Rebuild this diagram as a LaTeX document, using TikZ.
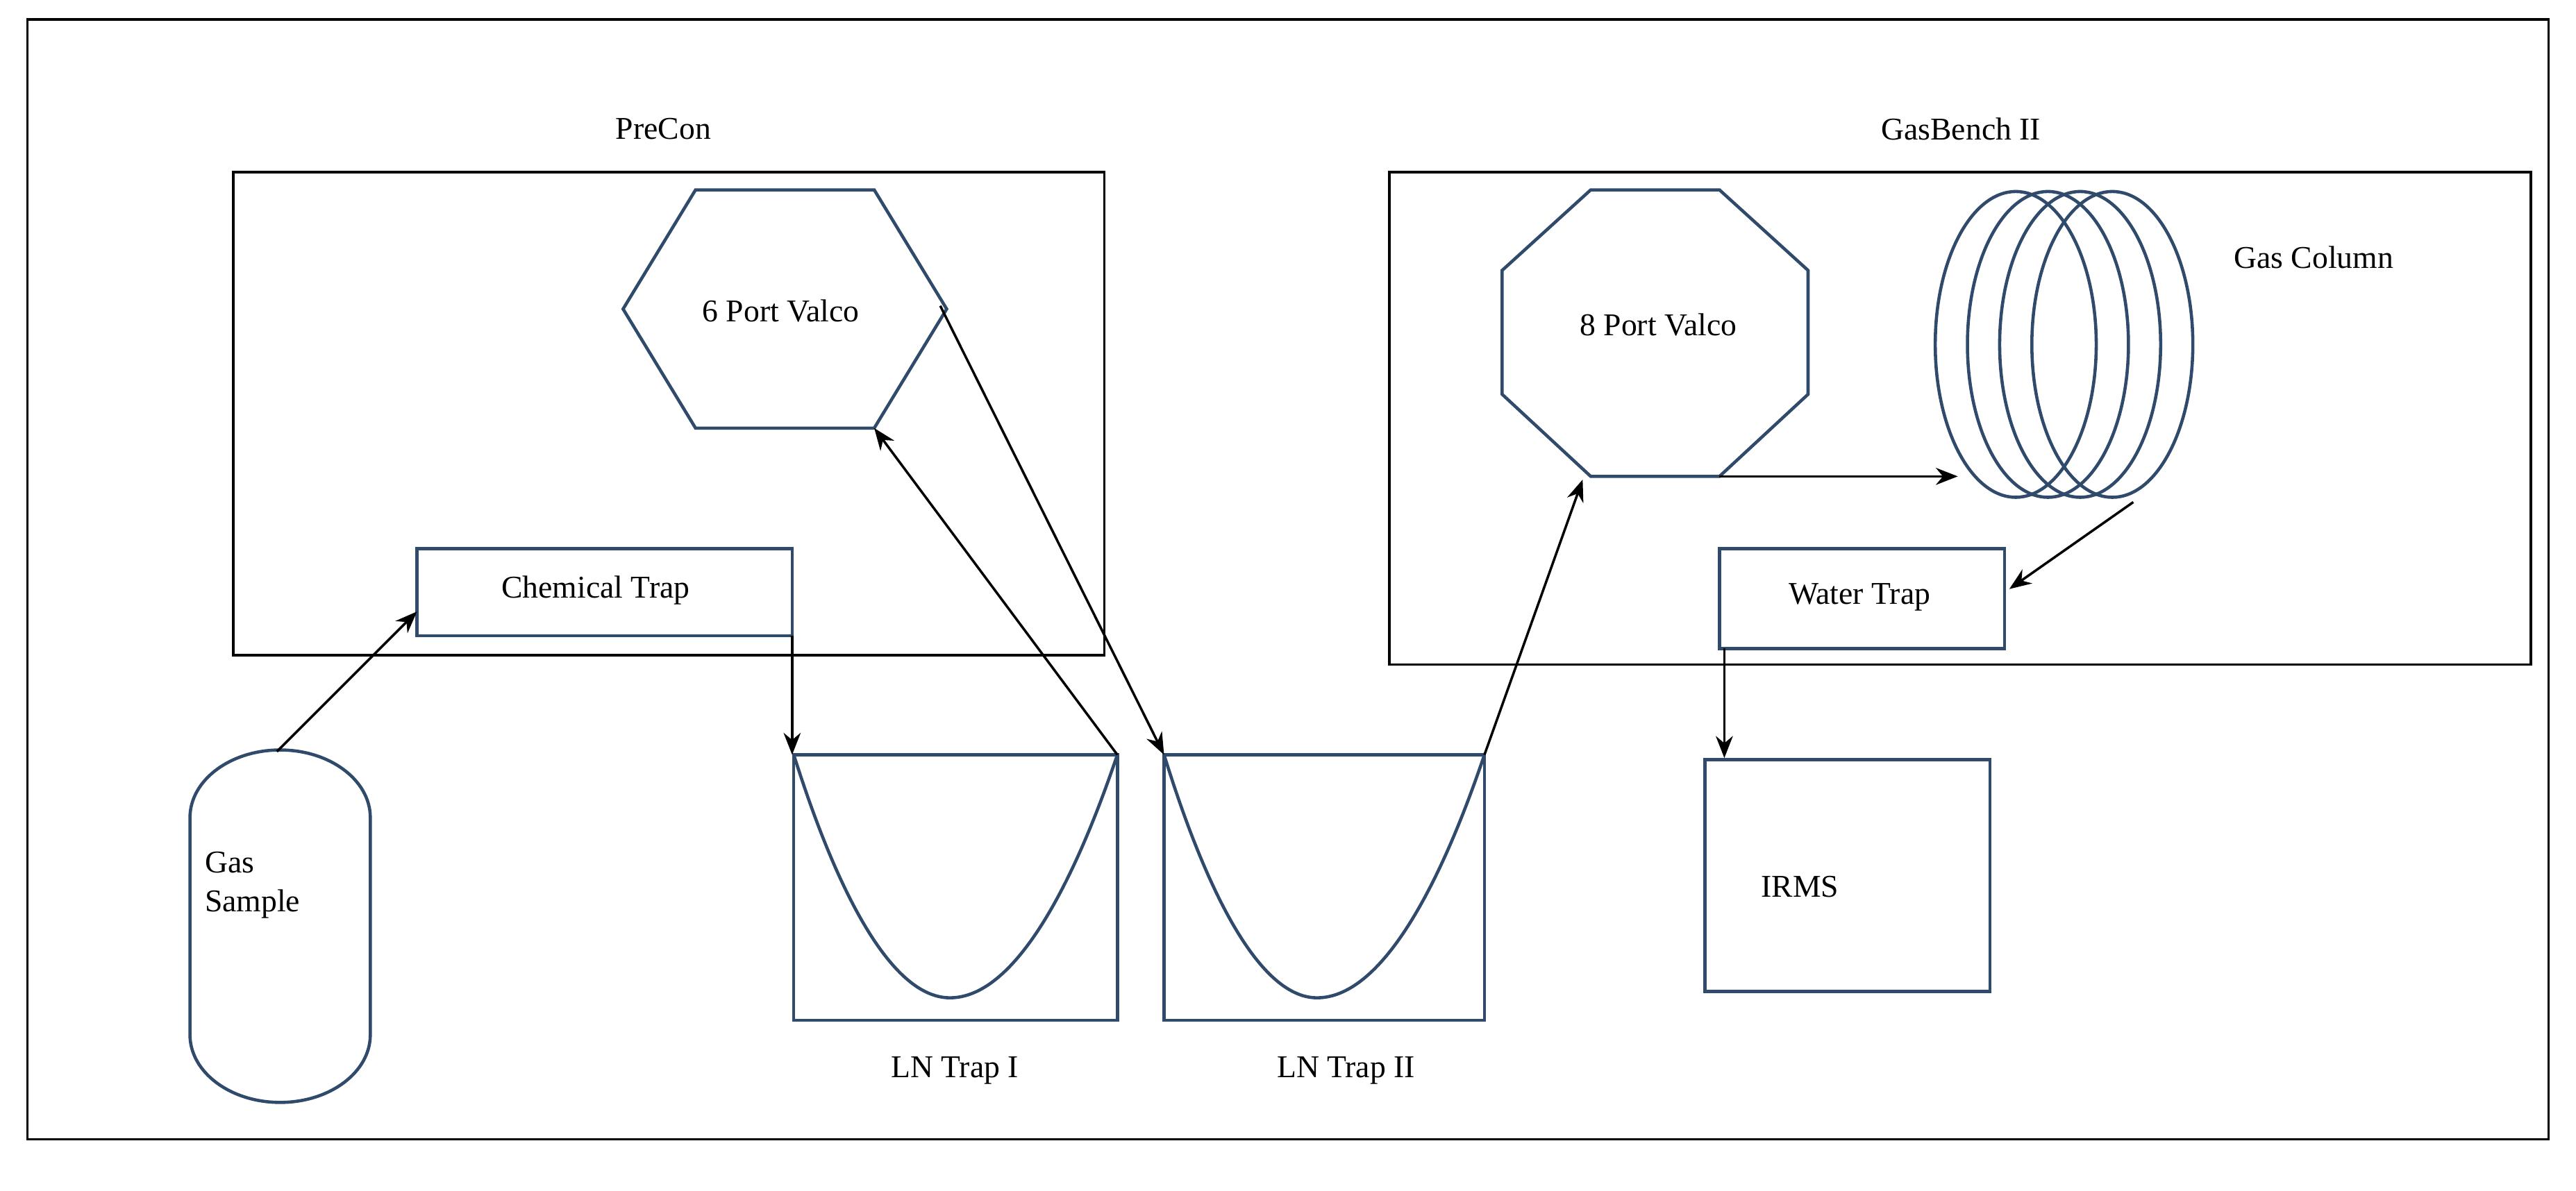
\documentclass[tikz,border=0pt]{standalone}
\usepackage{fontspec}
\setmainfont{Liberation Serif}
\usetikzlibrary{arrows.meta}
\definecolor{shp}{HTML}{2F4A6B}
\begin{document}
\begin{tikzpicture}[x=0.0231875cm,y=-0.0231875cm,
  shp/.style={draw=shp,line width=1.3pt},
  box/.style={draw=black,line width=1pt},
  arr/.style={-{Stealth[length=9pt,width=7pt]},line width=1pt,black},
  lbl/.style={font=\fontsize{13}{16}\selectfont,inner sep=0pt}]
\useasboundingbox (0,0) rectangle (1600,740);
\draw[line width=1pt] (17,12) rectangle (1583,708);
% boxes
\draw[box] (145,107) rectangle (686,407);
\node[lbl] (precon) at (412,80) {PreCon};
\draw[box] (863,107) rectangle (1572,413);
\node[lbl] (gasbench) at (1218,80) {GasBench II};
% hexagon
\draw[shp] (387,192)--(432,118)--(543,118)--(588,192)--(543,266)--(432,266)--cycle;
\node[lbl] (six) at (485,193) {6 Port Valco};
\coordinate (hexR) at (584,190);
\coordinate (hexLR) at (543,266);
% octagon
\draw[shp] (988,118)--(1068,118)--(1123,168)--(1123,245)--(1068,296)--(988,296)--(933,245)--(933,168)--cycle;
\node[lbl] (eight) at (1030,202) {8 Port Valco};
\coordinate (octBL) at (983,298);
\coordinate (octBR) at (1068,296);
% coils
\foreach \c in {1252,1272,1292,1312}
  \draw[shp] (\c,214) ellipse [x radius=50, y radius=95];
\node[lbl] (gc) at (1437,160) {Gas Column};
\coordinate (coilL) at (1216,296);
\coordinate (coilR) at (1325,312);
% traps
\draw[shp] (259,341) rectangle (492,395);
\node[lbl] (ctl) at (370,367) {Chemical Trap};
\coordinate (ctL) at (259,380);
\coordinate (ctR) at (492,395);
\draw[shp] (1068,341) rectangle (1245,403);
\node[lbl] (wtl) at (1155,371) {Water Trap};
\coordinate (wtR) at (1248,366);
\coordinate (wtB) at (1071,403);
% gas sample
\draw[shp] (118,508) arc[start angle=180,end angle=360,x radius=56,y radius=42] -- (230,643)
  arc[start angle=0,end angle=180,x radius=56,y radius=42] -- cycle;
\node[lbl,align=left,anchor=west] (gs) at (127,550) {Gas\\Sample};
\coordinate (gsT) at (172,467);
% LN traps
\draw[shp] (493,469) rectangle (694,634);
\draw[shp] (493,469) parabola bend (590,620) (694,469);
\node[lbl] (ln1) at (593,665) {LN Trap I};
\draw[shp] (723,469) rectangle (922,634);
\draw[shp] (723,469) parabola bend (818,620) (922,469);
\node[lbl] (ln2) at (836,665) {LN Trap II};
\coordinate (ln1TL) at (492,469);
\coordinate (ln1TR) at (694,469);
\coordinate (ln2TL) at (723,469);
\coordinate (ln2TR) at (922,469);
% IRMS
\draw[shp] (1059,472) rectangle (1236,616);
\node[lbl] (irms) at (1118,551) {IRMS};
\coordinate (irT) at (1071,471);
% arrows
\draw[arr] (gsT) -- (ctL);
\draw[arr] (ctR) -- (ln1TL);
\draw[arr] (ln1TR) -- (hexLR);
\draw[arr] (hexR) -- (ln2TL);
\draw[arr] (ln2TR) -- (octBL);
\draw[arr] (octBR) -- (coilL);
\draw[arr] (coilR) -- (wtR);
\draw[arr] (wtB) -- (irT);
\end{tikzpicture}
\end{document}
